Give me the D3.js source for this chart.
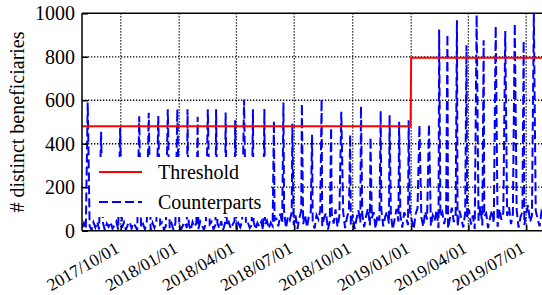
<!DOCTYPE html>
<html>
<head>
<meta charset="utf-8">
<script src="https://cdn.jsdelivr.net/npm/d3@7"></script>
<style>
  body { margin: 0; background: #fff; }
</style>
</head>
<body>
<svg id="chart"></svg>
<script>
const width = 542, height = 295;
const serif = `"Liberation Serif"`;

// threshold (step)
const thresholdDates = ["2017-08-01", "2018-12-31", "2019-01-01", "2019-07-29"];
const thresholdValues = [480, 480, 795, 795];

// counterparts: background level, one value every 3 days from 2017-08-01
const baseStart = "2017-08-01";
const baseStepDays = 3;
const base2017 = [12, 35, 8, 40, 22, 3, 38, 15, 41, 6, 28, 36, 2, 33, 18, 40, 9, 25, 42, 5,
  30, 14, 38, 4, 27, 41, 10, 35, 20, 3, 39, 16, 31, 7, 42, 24, 2, 36, 13, 40,
  8, 29, 38, 5, 22, 41, 11, 34, 3, 37, 19];
const base2018a = [43, 6, 26, 39, 12, 31, 2, 40, 17,
  35, 8, 42, 23, 4, 38, 14, 30, 41, 6, 27, 36, 10, 44, 3, 33, 21, 40, 9, 28,
  45, 7, 35, 16, 42, 4, 31, 38, 12, 25, 44, 6, 36, 19, 41, 3, 29, 46, 10, 37,
  22, 48, 55, 20, 78, 35, 90, 12, 64, 48, 85, 25];
const base2018b = [70, 8, 58, 92, 30, 75, 15, 66, 88, 40,
  10, 72, 52, 95, 22, 60, 82, 5, 45, 76, 33, 98, 18, 68, 50, 86, 12, 62, 90, 28,
  74, 8, 56, 94, 38, 80, 16, 67, 102, 25, 58, 85, 10, 72, 46, 96, 20, 64, 88, 32,
  78, 6, 54, 100, 42, 70, 14, 84, 60, 26, 92];
const base2019 = [48, 8, 76, 104, 35, 62, 18, 88, 52,
  110, 22, 70, 45, 96, 12, 66, 85, 30, 78, 10, 58, 106, 40, 74, 20, 92, 55, 15, 82,
  62, 98, 28, 70, 8, 88, 46, 112, 24, 66, 80, 12, 58, 94, 36, 72, 18, 100, 50, 84,
  6, 68, 108, 30, 76, 44, 96, 14, 62, 88, 26, 80, 118, 40, 70, 10, 92, 54, 20, 86,
  64];

// counterparts: peaks
const spikeDates = ["2017-08-10", "2017-08-31", "2017-09-30", "2017-10-30", "2017-11-14", "2017-11-29",
  "2017-12-14", "2017-12-29", "2018-01-14", "2018-01-30", "2018-02-15", "2018-02-28", "2018-03-15",
  "2018-03-30", "2018-04-13", "2018-04-27", "2018-05-15", "2018-05-30", "2018-06-14", "2018-06-28",
  "2018-07-13", "2018-07-29", "2018-08-13", "2018-08-28", "2018-09-13", "2018-09-27", "2018-10-14",
  "2018-10-29", "2018-11-14", "2018-11-28", "2018-12-13", "2018-12-28", "2019-01-14", "2019-01-29",
  "2019-02-14", "2019-02-27", "2019-03-14", "2019-03-29", "2019-04-14", "2019-04-25", "2019-05-14",
  "2019-05-29", "2019-06-13", "2019-06-27", "2019-07-13"];
const spikeValues = [590, 455, 473, 526, 543, 527, 559, 559, 559, 524, 558, 559, 544, 508, 603, 559,
  560, 505, 590, 492, 585, 441, 605, 474, 547, 442, 573, 430, 550, 531, 501, 508, 486, 490, 926, 904,
  968, 853, 993, 876, 942, 918, 953, 873, 999];

const xTicks = ["2017/10/01", "2018/01/01", "2018/04/01", "2018/07/01", "2018/10/01", "2019/01/01", "2019/04/01", "2019/07/01"];
const yTicks = [0, 200, 400, 600, 800, 1000];

const parseISO = d3.timeParse("%Y-%m-%d");
const parseTick = d3.timeParse("%Y/%m/%d");
const fmtTick = d3.timeFormat("%Y/%m/%d");

const pLeft = 82, pRight = 544, pTop = 13.3, pBottom = 230.7;

const x = d3.scaleTime()
  .domain([parseISO("2017-08-01"), parseISO("2019-07-29")])
  .range([pLeft, pRight]);
const y = d3.scaleLinear().domain([0, 1000]).range([pBottom, pTop]);

const svg = d3.select("#chart").attr("width", width).attr("height", height);

svg.append("defs").append("clipPath").attr("id", "plotclip")
  .append("rect").attr("x", pLeft).attr("y", pTop - 2).attr("width", pRight - pLeft).attr("height", pBottom - pTop + 2);

// grid
const grid = svg.append("g");
grid.selectAll("line.gx").data(xTicks.map(parseTick)).enter().append("line")
  .attr("x1", d => x(d)).attr("x2", d => x(d))
  .attr("y1", pTop).attr("y2", pBottom)
  .attr("stroke", "#000").attr("stroke-width", 1.3).attr("stroke-dasharray", "1.3,1.7");
grid.selectAll("line.gy").data(yTicks.filter(v => v > 0 && v < 1000)).enter().append("line")
  .attr("x1", pLeft).attr("x2", pRight)
  .attr("y1", d => y(d)).attr("y2", d => y(d))
  .attr("stroke", "#000").attr("stroke-width", 1.3).attr("stroke-dasharray", "1.3,1.7");

// counterparts series
const baseline = [].concat(base2017, base2018a, base2018b, base2019);
const pts = new Map();
baseline.forEach((v, i) => {
  const dt = d3.timeDay.offset(parseISO(baseStart), i * baseStepDays);
  pts.set(+dt, {date: dt, value: v});
});
spikeDates.forEach((s, i) => {
  const dt = parseISO(s);
  pts.set(+dt, {date: dt, value: spikeValues[i]});
});
const counterparts = Array.from(pts.values()).sort((a, b) => a.date - b.date);
const threshold = thresholdDates.map((s, i) => ({date: parseISO(s), value: thresholdValues[i]}));

const line = d3.line().x(d => x(d.date)).y(d => y(d.value));

const plot = svg.append("g").attr("clip-path", "url(#plotclip)");
plot.append("path").datum(counterparts)
  .attr("d", line).attr("fill", "none")
  .attr("stroke", "#0000ff").attr("stroke-width", 2)
  .attr("stroke-dasharray", "9,4");
plot.append("path").datum(threshold)
  .attr("d", line).attr("fill", "none")
  .attr("stroke", "#ff0000").attr("stroke-width", 2);

// axes
const xAxis = svg.append("g").attr("transform", `translate(0,${pBottom})`)
  .call(d3.axisBottom(x).tickValues(xTicks.map(parseTick)).tickFormat(fmtTick).tickSize(-6));
xAxis.attr("font-family", null);
xAxis.select(".domain").remove();
xAxis.selectAll(".tick line").attr("stroke", "#000").attr("stroke-width", 1.5);
xAxis.selectAll(".tick text")
  .attr("y", null).attr("dy", null).attr("x", null)
  .attr("text-anchor", "end")
  .attr("transform", "translate(-1,21) rotate(-30)")
  .style("font-family", serif)
  .style("font-size", "17.5px");

const yAxis = svg.append("g").attr("transform", `translate(${pLeft},0)`)
  .call(d3.axisLeft(y).tickValues(yTicks).tickFormat(d3.format("d")).tickSize(-6).tickPadding(7));
yAxis.attr("font-family", null);
yAxis.select(".domain").remove();
yAxis.selectAll(".tick line").attr("stroke", "#000").attr("stroke-width", 1.5);
yAxis.selectAll(".tick text").style("font-family", serif).style("font-size", "20px");

svg.append("text")
  .attr("transform", `translate(24,${(pTop + pBottom) / 2}) rotate(-90)`)
  .attr("text-anchor", "middle")
  .style("font-family", serif)
  .style("font-size", "20px")
  .text("# distinct beneficiaries");

// legend
const legend = svg.append("g");
legend.append("rect").attr("x", 91).attr("y", 157).attr("width", 180).attr("height", 60).attr("fill", "#fff");
const entries = [
  {name: "Threshold", color: "#ff0000", dash: null},
  {name: "Counterparts", color: "#0000ff", dash: "9,4"}
];
entries.forEach((e, i) => {
  const ly = 172 + i * 30;
  legend.append("line").attr("x1", 99).attr("x2", 142).attr("y1", ly).attr("y2", ly)
    .attr("stroke", e.color).attr("stroke-width", 2).attr("stroke-dasharray", e.dash);
  legend.append("text").attr("x", 158).attr("y", ly).attr("dy", "0.35em")
    .style("font-family", serif)
    .style("font-size", "20px").text(e.name);
});

// border
const border = svg.append("g").attr("stroke", "#000").attr("stroke-width", 1.5);
border.append("line").attr("x1", pLeft).attr("x2", pLeft).attr("y1", pTop).attr("y2", pBottom);
border.append("line").attr("x1", pLeft).attr("x2", pRight).attr("y1", pBottom).attr("y2", pBottom);
border.append("line").attr("x1", pLeft).attr("x2", pRight).attr("y1", pTop).attr("y2", pTop);
</script>
</body>
</html>
